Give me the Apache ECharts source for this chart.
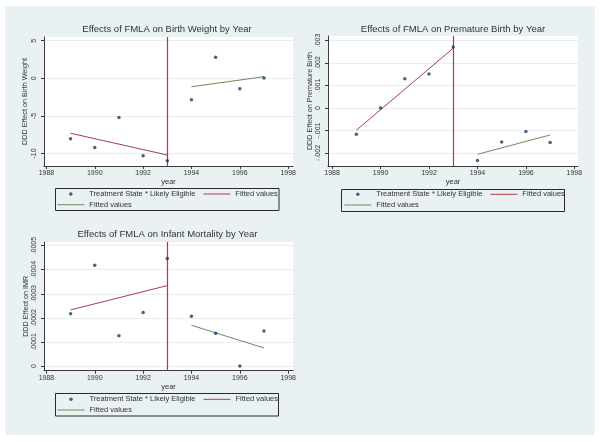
<!DOCTYPE html>
<html><head><meta charset="utf-8">
<script src="https://cdn.jsdelivr.net/npm/echarts@6/dist/echarts.min.js"></script>
<style>html,body{margin:0;padding:0;background:#fff}#c{width:600px;height:442px}</style>
</head><body><div id="c"></div>
<script>
// ---- data ----
const years = [1989, 1990, 1991, 1992, 1993, 1994, 1995, 1996, 1997];
const preYears = [1989, 1993];
const postYears = [1994, 1997];
const cutoffYear = 1993;
const xTicks = [1988, 1990, 1992, 1994, 1996, 1998];

const bwEffect = [-8.03, -9.2, -5.2, -10.3, -10.95, -2.85, 2.8, -1.38, 0.04];
const bwFitPre = [-7.31, -10.2];
const bwFitPost = [-1.12, 0.21];
const bwTicks = [-10, -5, 0, 5];

const pbEffect = [-0.00117, 0.00000, 0.00130, 0.00151, 0.00271, -0.00234, -0.00151, -0.00105, -0.00154];
const pbFitPre = [-0.00099, 0.00266];
const pbFitPost = [-0.00206, -0.00120];
const pbTicks = [-0.002, -0.001, 0, 0.001, 0.002, 0.003];

const imrEffect = [0.000217, 0.000418, 0.000126, 0.000222, 0.000446, 0.000207, 0.000136, 0.000000, 0.000145];
const imrFitPre = [0.000233, 0.000334];
const imrFitPost = [0.000169, 0.000075];
const imrTicks = [0, 0.0001, 0.0002, 0.0003, 0.0004, 0.0005];

const titles = ['Effects of FMLA on Birth Weight by Year', 'Effects of FMLA on Premature Birth by Year', 'Effects of FMLA on Infant Mortality by Year'];
const yNames = ['DDD Effect on Birth Weight', 'DDD Effect on Premature Birth', 'DDD Effect on IMR'];
const xName = 'year';
const scatterName = 'Treatment State * Likely Eligible';
const fitLabel = 'Fitted values';

// ---- styling / layout ----
const FONT = 'Liberation Sans, Arial, sans-serif';
const TXT = '#333';
const AXIS = '#3a3a3a';
const DOT = '#1c3b60';
const RED = '#a83c4e';
const GREEN = '#70895a';
const VLINE = '#c8285a';
const PANEL = '#e9f1f2';
const DOT_ICON = 'path://M0,0M27,4M15.25,2A1.75,1.75,0,1,1,11.75,2A1.75,1.75,0,1,1,15.25,2Z';
const LINE_ICON = 'path://M0,0H27V1H0Z';

const panels = [
  { eff: bwEffect, pre: bwFitPre, post: bwFitPost, ticks: bwTicks,
    grid: { left: 44, top: 37, width: 249, height: 129 }, xMin: 1987.9, xMax: 1998.2, yMin: -11.66, yMax: 5.49,
    titleX: 167, titleY: 24, nameGap: 15, legLeft: 57.3, legTop1: 189.5, legTop2: 200.2, frame: [55.5, 188.5, 223.5, 22] },
  { eff: pbEffect, pre: pbFitPre, post: pbFitPost, ticks: pbTicks,
    grid: { left: 328, top: 36, width: 250, height: 130 }, xMin: 1987.83, xMax: 1998.15, yMin: -0.00258, yMax: 0.0032,
    titleX: 453, titleY: 24, nameGap: 14, legLeft: 344.3, legTop1: 189.8, legTop2: 200.5, frame: [341.5, 189.5, 223, 22] },
  { eff: imrEffect, pre: imrFitPre, post: imrFitPost, ticks: imrTicks,
    grid: { left: 44, top: 242, width: 249, height: 128.7 }, xMin: 1987.9, xMax: 1998.2, yMin: -0.0000195, yMax: 0.000515,
    titleX: 167.5, titleY: 229, nameGap: 14, legLeft: 57.5, legTop1: 394.8, legTop2: 405.5, frame: [55.5, 393.5, 223, 22.5] }
];

function stataFmt(v) {
  if (v === 0) return '0';
  return String(+v.toPrecision(6)).replace(/^(-?)0\./, '$1.');
}
const legendFmt = n => n.split('#')[0];

const option = {
  animation: false,
  textStyle: { fontFamily: FONT },
  graphic: { elements: [
    { type: 'rect', z: -100, silent: true, shape: { x: 5, y: 6, width: 590, height: 429 }, style: { fill: PANEL } }
  ].concat(panels.map(p => ({
    type: 'rect', z: 100, silent: true,
    shape: { x: p.frame[0], y: p.frame[1], width: p.frame[2], height: p.frame[3] },
    style: { fill: 'none', stroke: '#2a2a2a', lineWidth: 1 }
  }))) },
  title: panels.map((p, i) => ({
    text: titles[i], left: p.titleX, top: p.titleY, textAlign: 'center', padding: 0,
    textStyle: { fontSize: 9.5, fontWeight: 'normal', color: TXT, fontFamily: FONT }
  })),
  grid: panels.map(p => Object.assign({ show: true, backgroundColor: '#fff', borderWidth: 0 }, p.grid)),
  xAxis: panels.map((p, i) => ({
    type: 'value', gridIndex: i, min: p.xMin, max: p.xMax,
    name: xName, nameLocation: 'middle', nameGap: 9,
    nameTextStyle: { fontSize: 7.5, color: TXT, fontFamily: FONT },
    axisLine: { show: true, onZero: false, lineStyle: { color: AXIS, width: 1 } },
    axisTick: { show: true, length: 3, customValues: xTicks, lineStyle: { color: AXIS } },
    axisLabel: { customValues: xTicks, fontSize: 7, color: TXT, margin: 4, formatter: v => String(v), fontFamily: FONT },
    splitLine: { show: false }
  })),
  yAxis: panels.map((p, i) => ({
    type: 'value', gridIndex: i, min: p.yMin, max: p.yMax,
    name: yNames[i], nameLocation: 'middle', nameGap: p.nameGap,
    nameTextStyle: { fontSize: 7.2, color: TXT, fontFamily: FONT },
    axisLine: { show: true, onZero: false, lineStyle: { color: AXIS, width: 1 } },
    axisTick: { show: true, length: 3, customValues: p.ticks, lineStyle: { color: AXIS } },
    axisLabel: { customValues: p.ticks, rotate: 90, fontSize: 7, color: TXT, margin: 6, formatter: stataFmt, fontFamily: FONT },
    splitLine: { show: true, lineStyle: { color: '#e8eef0', width: 1 } }
  })),
  legend: [].concat(...panels.map(p => {
    const common = {
      left: p.legLeft, padding: 0, orient: 'horizontal', itemWidth: 27, itemHeight: 4, itemGap: 8,
      selectedMode: false, formatter: legendFmt, symbolKeepAspect: true, align: 'left',
      textStyle: { fontSize: 7.5, color: TXT, lineHeight: 9, fontFamily: FONT }
    };
    return [
      Object.assign({ top: p.legTop1, data: [{ name: scatterName, icon: DOT_ICON }, { name: fitLabel + '#pre', icon: LINE_ICON }] }, common),
      Object.assign({ top: p.legTop2, data: [{ name: fitLabel + '#post', icon: LINE_ICON }] }, common)
    ];
  })),
  series: [].concat(...panels.map((p, i) => [
    {
      type: 'line', name: 'cutoff', xAxisIndex: i, yAxisIndex: i, symbol: 'none', silent: true,
      color: VLINE, lineStyle: { color: VLINE, width: 1 }, itemStyle: { color: VLINE },
      data: [],
      markLine: {
        silent: true, symbol: ['none', 'none'], label: { show: false }, animation: false,
        lineStyle: { color: VLINE, width: 1.2, type: 'solid', opacity: 1 },
        emphasis: { disabled: true },
        data: [{ xAxis: cutoffYear }]
      }
    },
    {
      type: 'line', name: fitLabel + '#pre', xAxisIndex: i, yAxisIndex: i, symbol: 'none', silent: true,
      lineStyle: { color: RED, width: 1 }, itemStyle: { color: RED },
      data: preYears.map((y, k) => [y, p.pre[k]])
    },
    {
      type: 'line', name: fitLabel + '#post', xAxisIndex: i, yAxisIndex: i, symbol: 'none', silent: true,
      lineStyle: { color: GREEN, width: 1 }, itemStyle: { color: GREEN },
      data: postYears.map((y, k) => [y, p.post[k]])
    },
    {
      type: 'scatter', name: scatterName, xAxisIndex: i, yAxisIndex: i, symbolSize: 3.5, silent: true,
      itemStyle: { color: DOT }, z: 5,
      data: years.map((y, k) => [y, p.eff[k]])
    }
  ]))
};

const chart = echarts.init(document.getElementById('c'), null, { renderer: 'canvas' });
chart.setOption(option);
</script>
</body></html>
